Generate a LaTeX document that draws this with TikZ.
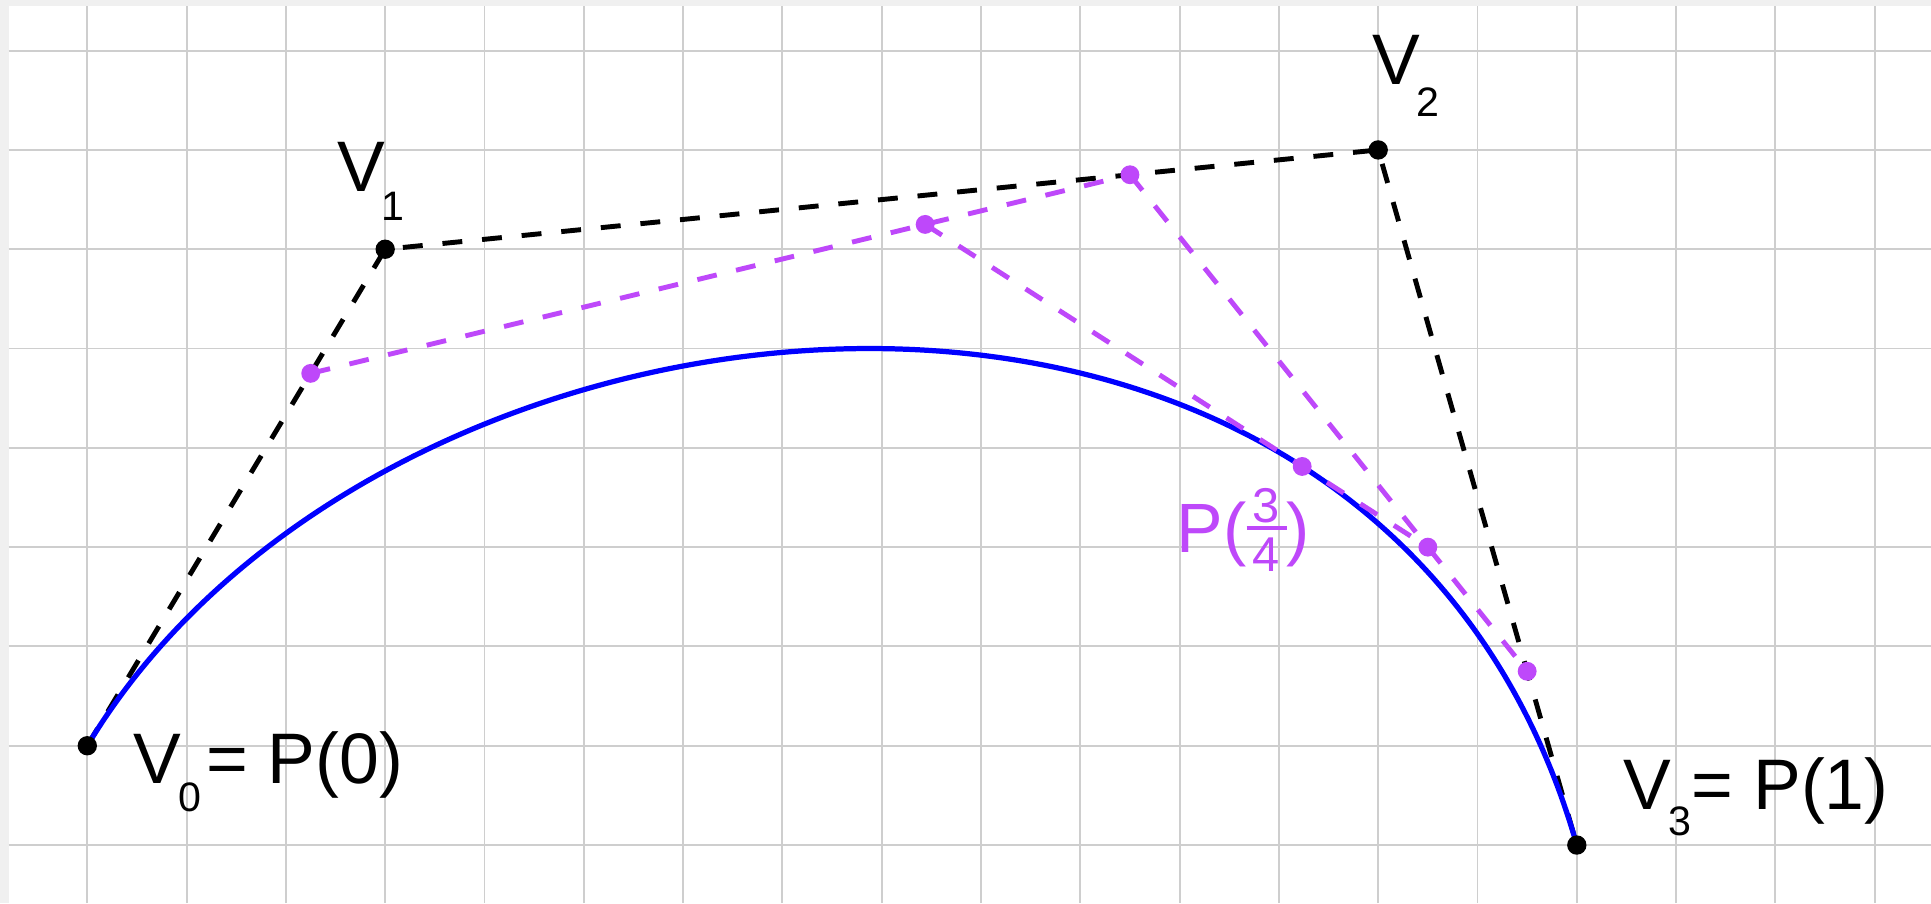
\documentclass[tikz,border=0pt]{standalone}
\usepackage{fontspec}
\setmainfont{Liberation Sans}
\usetikzlibrary{calc}
\definecolor{gridc}{RGB}{206,206,206}
\definecolor{magc}{RGB}{190,72,250}
\definecolor{bgc}{RGB}{240,240,240}
\definecolor{bluec}{RGB}{0,0,255}
\newcommand{\mysub}[2]{\kern-1pt\raisebox{-#1}{\fontsize{11.8}{12}\selectfont #2}}
\begin{document}
\begin{tikzpicture}[
  gridline/.style={draw=gridc, line width=0.55pt},
  ctrlline/.style={draw=black, line width=1.4pt, dash pattern=on 5.7pt off 5.7pt},
  magline/.style={draw=magc, line width=1.4pt, dash pattern=on 5.7pt off 5.7pt},
  curveline/.style={draw=bluec, line width=1.5pt},
  bdot/.style={circle, fill=black, inner sep=0pt, minimum size=0.195cm},
  mdot/.style={circle, fill=magc, inner sep=0pt, minimum size=0.19cm},
  lab/.style={anchor=base west, inner sep=0pt, font=\fontsize{20.5}{24}\selectfont},
  plab/.style={inner sep=0pt, text=magc, font=\fontsize{20}{24}\selectfont},
  fraclab/.style={anchor=base, inner sep=0pt, text=magc, font=\fontsize{14}{16}\selectfont}
]
% canvas
\useasboundingbox (-0.879,-1.584) rectangle (18.567,7.51);
\fill[bgc] (-0.879,-1.584) rectangle (18.567,7.51);
\fill[white] (-0.792,-1.584) rectangle (18.567,7.449);
% grid
\foreach \x in {0,...,18} \draw[gridline] (\x,-1.584) -- (\x,7.449);
\foreach \y in {-1,...,7} \draw[gridline] (-0.792,\y) -- (18.567,\y);
% control points
\coordinate (V0) at (0,0);
\coordinate (V1) at (3,5);
\coordinate (V2) at (13,6);
\coordinate (V3) at (15,-1);
% de Casteljau points at t = 3/4
\coordinate (Q0) at ($(V0)!0.75!(V1)$);
\coordinate (Q1) at ($(V1)!0.75!(V2)$);
\coordinate (Q2) at ($(V2)!0.75!(V3)$);
\coordinate (R0) at ($(Q0)!0.75!(Q1)$);
\coordinate (R1) at ($(Q1)!0.75!(Q2)$);
\coordinate (P) at ($(R0)!0.75!(R1)$);
% control polygon
\draw[ctrlline] (V0) -- (V1) -- (V2) -- (V3);
% Bezier curve
\draw[curveline] (V0) .. controls (V1) and (V2) .. (V3);
% construction lines
\draw[magline] (Q0) -- (Q1);
\draw[magline] (Q1) -- (Q2);
\draw[magline] (R0) -- (R1);
% dots
\node[bdot] (dV0) at (V0) {};
\node[bdot] (dV1) at (V1) {};
\node[bdot] (dV2) at (V2) {};
\node[bdot] (dV3) at (V3) {};
\node[mdot] (dQ0) at (Q0) {};
\node[mdot] (dQ1) at (Q1) {};
\node[mdot] (dQ2) at (Q2) {};
\node[mdot] (dR0) at (R0) {};
\node[mdot] (dR1) at (R1) {};
\node[mdot] (dP) at (P) {};
% labels
\node[lab] (lV0) at (0.463,-0.379) {V\mysub{8.1pt}{0}\hspace{1.5pt}= P(0)};
\node[lab] (lV1) at (2.512,5.579) {V\mysub{8.1pt}{1}};
\node[lab] (lV2) at (12.934,6.654) {V\mysub{8.9pt}{2}};
\node[lab] (lV3) at (15.467,-0.640) {V\mysub{7.6pt}{3}\hspace{0.2pt}= P(1)};
% P(3/4)
\node[plab, anchor=base west] (lPa) at (10.966,1.944) {P(};
\node[fraclab] (lPn) at (11.87,2.245) {3};
\coordinate (barL) at (11.676,2.189);
\coordinate (barR) at (12.078,2.189);
\draw[draw=magc, line width=1.1pt] (barL) -- (barR);
\node[fraclab] (lPd) at (11.87,1.752) {4};
\node[plab, anchor=base east] (lPb) at (12.322,1.944) {)};
\end{tikzpicture}
\end{document}
